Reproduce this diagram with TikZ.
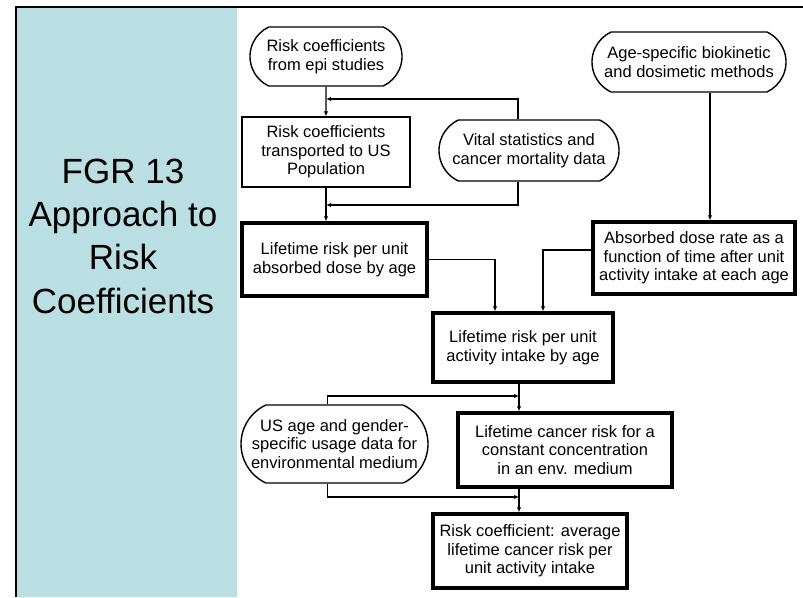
\documentclass[tikz,border=0pt]{standalone}
\usepackage{fontspec}
\setmainfont{Liberation Sans}
\usepackage{xcolor}
\usetikzlibrary{shapes,arrows.meta,positioning,calc}
\definecolor{panelblue}{RGB}{186,223,227}

\tikzset{
	testo/.style={align=center, font=\fontsize{16.5}{18.5}\selectfont, inner sep=2pt},
	capsula/.style={rounded rectangle, rounded rectangle arc length=130, draw, line width=1.4pt, testo},
	blocco/.style={rectangle, draw, line width=1.4pt, testo},
	bloccospesso/.style={blocco, line width=3.4pt},
	freccia/.style={line width=1.3pt, -{Latex[length=5pt,width=4.5pt]}}
}

\begin{document}
\begin{tikzpicture}[x=1pt, y=-1pt]
				\useasboundingbox (0,0) rectangle (803,597);
				\fill[panelblue] (17,8) rectangle (237,597);
				\draw[line width=2pt] (15.5,597) -- (15.5,7) -- (803,7);
				
				\node[align=center, font=\fontsize{35}{43.3}\selectfont] (titolo) at (123,236) {FGR 13\\Approach to\\Risk\\Coefficients};
				
				\node[capsula, minimum width=156pt, minimum height=59pt] (epi) at (326,56.5) {Risk coefficients\\from epi studies};
				\node[blocco, minimum width=168pt, minimum height=70pt] (transp) at (326,152) {Risk coefficients\\transported to US\\Population};
				\node[capsula, minimum width=184pt, minimum height=61pt] (vital) at (529,150.5) {Vital statistics and\\cancer mortality data};
				\node[capsula, minimum width=198pt, minimum height=60pt] (biokin) at (689,62) {Age-specific biokinetic\\and dosimetic methods};
				\node[bloccospesso, minimum width=185pt, minimum height=73pt] (ltabs) at (334.5,259.5) {Lifetime risk per unit\\absorbed dose by age};
				\node[bloccospesso, minimum width=202pt, minimum height=72pt] (doserate) at (694,258) {Absorbed dose rate as a\\function of time after unit\\activity intake at each age};
				\node[bloccospesso, minimum width=180pt, minimum height=69pt] (ltint) at (523,347.5) {Lifetime risk per unit\\activity intake by age};
				\node[capsula, minimum width=191pt, minimum height=78pt] (usage) at (334.5,444) {US age and gender-\\specific usage data for\\environmental medium};
				\node[bloccospesso, minimum width=214pt, minimum height=74pt] (ltcancer) at (565,450) {Lifetime cancer risk for a\\constant concentration\\in an env. medium};
				\node[bloccospesso, minimum width=194pt, minimum height=74pt] (coeff) at (530,551) {Risk coefficient: average\\lifetime cancer risk per\\unit activity intake};
				
				% punti di raccordo
				\coordinate (colsx) at (326,0);
				\coordinate (coldx) at (519,0);
				\coordinate (jsu) at (326,99);
				\coordinate (jgiu) at (326,205);
				\coordinate (jenv) at (519,396);
				\coordinate (jenv2) at (519,497);
				
				\draw[freccia] (epi) -- (transp);
				\draw[freccia] ([xshift=-11pt]vital.north) |- (jsu);
				\draw[freccia] ([xshift=-11pt]vital.south) |- (jgiu);
				\draw[freccia] (transp.south) -- (colsx |- ltabs.north);
				\draw[freccia] (ltabs.east) -| ([xshift=-28pt]ltint.north);
				\draw[freccia] ([yshift=8pt]doserate.west) -| ([xshift=20pt]ltint.north);
				\draw[freccia] ([xshift=21pt]biokin.south) -- ([xshift=16pt]doserate.north);
				\draw[freccia] (coldx |- ltint.south) -- (coldx |- ltcancer.north);
				\draw[freccia] ([xshift=-7pt]usage.north) |- (jenv);
				\draw[freccia] ([xshift=-7pt]usage.south) |- (jenv2);
				\draw[freccia] (coldx |- ltcancer.south) -- (coldx |- coeff.north);
			\end{tikzpicture}
\end{document}
